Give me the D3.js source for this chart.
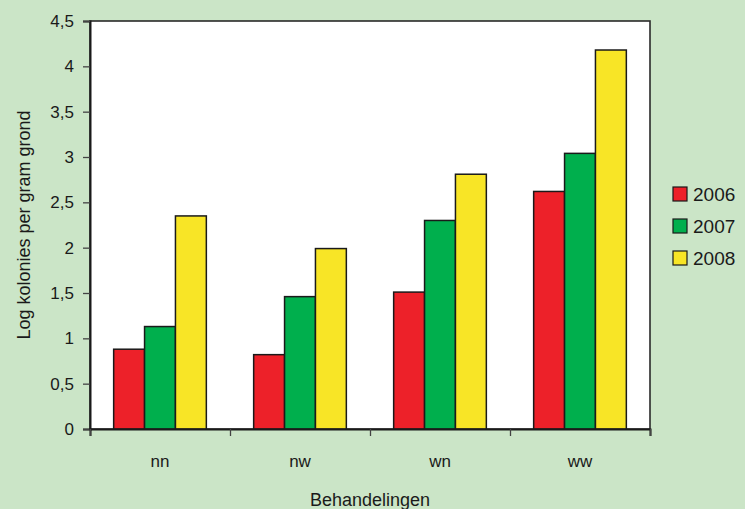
<!DOCTYPE html>
<html>
<head>
<meta charset="utf-8">
<script src="https://cdn.jsdelivr.net/npm/d3@7"></script>
<style>
  html, body { margin: 0; padding: 0; background: #cbe5c7; }
  svg { display: block; font-family: "Liberation Sans", Arial, sans-serif; }
</style>
</head>
<body>
<svg id="chart" width="745" height="509"></svg>
<script>
// Treatments and years
const categories = ["nn", "nw", "wn", "ww"];
const years = ["2006", "2007", "2008"];

// Log colonies per gram soil, per year
const values2006 = [0.88, 0.82, 1.51, 2.62];
const values2007 = [1.13, 1.46, 2.30, 3.04];
const values2008 = [2.35, 1.99, 2.81, 4.18];

const yTicks = [0, 0.5, 1, 1.5, 2, 2.5, 3, 3.5, 4, 4.5];
const colors = ["#ed2129", "#00af4d", "#f8e526"];

const series = [values2006, values2007, values2008];

const svg = d3.select("#chart");
const W = 745, H = 509;
const plot = { left: 90, right: 650, top: 21, bottom: 429 };

svg.append("rect").attr("width", W).attr("height", H).attr("fill", "#cbe5c7");

const x0 = d3.scaleBand()
  .domain(categories)
  .range([plot.left, plot.right])
  .paddingInner(0.338)
  .paddingOuter(0.169);

const x1 = d3.scaleBand()
  .domain(years)
  .range([0, x0.bandwidth()]);

const y = d3.scaleLinear()
  .domain([0, 4.5])
  .range([plot.bottom, plot.top]);

const nl = d3.formatLocale({ decimal: ",", thousands: ".", grouping: [3], currency: ["€", ""] });
const fmt = nl.format("~g");

// Plot area
svg.append("rect")
  .attr("x", plot.left).attr("y", plot.top)
  .attr("width", plot.right - plot.left)
  .attr("height", plot.bottom - plot.top)
  .attr("fill", "#ffffff")
  .attr("stroke", "#2a2a2a")
  .attr("stroke-width", 1.6);

// Bars
const groups = svg.append("g").selectAll("g")
  .data(categories)
  .join("g")
  .attr("transform", d => `translate(${x0(d)},0)`);

groups.selectAll("rect")
  .data((c, i) => years.map((yr, j) => ({ yr, j, v: series[j][i] })))
  .join("rect")
  .attr("x", d => x1(d.yr))
  .attr("y", d => y(d.v))
  .attr("width", x1.bandwidth())
  .attr("height", d => y(0) - y(d.v))
  .attr("fill", d => colors[d.j])
  .attr("stroke", "#1a1a1a")
  .attr("stroke-width", 1.5);

// Y axis
const yAxis = svg.append("g")
  .attr("transform", `translate(${plot.left},0)`)
  .call(d3.axisLeft(y).tickValues(yTicks).tickFormat(fmt).tickSize(7).tickPadding(9));
yAxis.select(".domain").attr("stroke", "#1a1a1a").attr("stroke-width", 2);
yAxis.selectAll(".tick line").attr("stroke", "#444").attr("stroke-width", 1.3);
yAxis.selectAll(".tick text")
  .attr("font-size", 17)
  .attr("fill", "#1a1a1a")
  .attr("font-family", "'Liberation Sans', Arial, sans-serif");

// X axis: boundary ticks between treatments
const xEdge = d3.scaleLinear().domain([0, categories.length]).range([plot.left, plot.right]);
const xAxisTicks = svg.append("g")
  .attr("transform", `translate(0,${plot.bottom})`)
  .call(d3.axisBottom(xEdge).tickValues(d3.range(categories.length + 1)).tickFormat("").tickSize(7));
xAxisTicks.select(".domain").attr("stroke", "#1a1a1a").attr("stroke-width", 2);
xAxisTicks.selectAll(".tick line").attr("stroke", "#444").attr("stroke-width", 1.3);

// X axis: treatment labels
const xAxisLabels = svg.append("g")
  .attr("transform", `translate(0,${plot.bottom})`)
  .call(d3.axisBottom(x0).tickSize(0).tickPadding(26));
xAxisLabels.select(".domain").remove();
xAxisLabels.selectAll(".tick text")
  .attr("font-size", 17)
  .attr("fill", "#1a1a1a")
  .attr("font-family", "'Liberation Sans', Arial, sans-serif");

// Axis titles
svg.append("text")
  .attr("x", (plot.left + plot.right) / 2)
  .attr("y", 506)
  .attr("text-anchor", "middle")
  .attr("font-size", 18)
  .attr("fill", "#1a1a1a")
  .text("Behandelingen");

svg.append("text")
  .attr("transform", `translate(30,${(plot.top + plot.bottom) / 2}) rotate(-90)`)
  .attr("text-anchor", "middle")
  .attr("font-size", 18)
  .attr("fill", "#1a1a1a")
  .text("Log kolonies per gram grond");

// Legend
const legend = svg.append("g").attr("transform", "translate(673,187)");
const items = legend.selectAll("g")
  .data(years)
  .join("g")
  .attr("transform", (d, i) => `translate(0,${i * 32})`);
items.append("rect")
  .attr("width", 14).attr("height", 14)
  .attr("fill", (d, i) => colors[i])
  .attr("stroke", "#1a1a1a")
  .attr("stroke-width", 1.2);
items.append("text")
  .attr("x", 20)
  .attr("y", 14)
  .attr("font-size", 19)
  .attr("fill", "#1a1a1a")
  .text(d => d);
</script>
</body>
</html>
